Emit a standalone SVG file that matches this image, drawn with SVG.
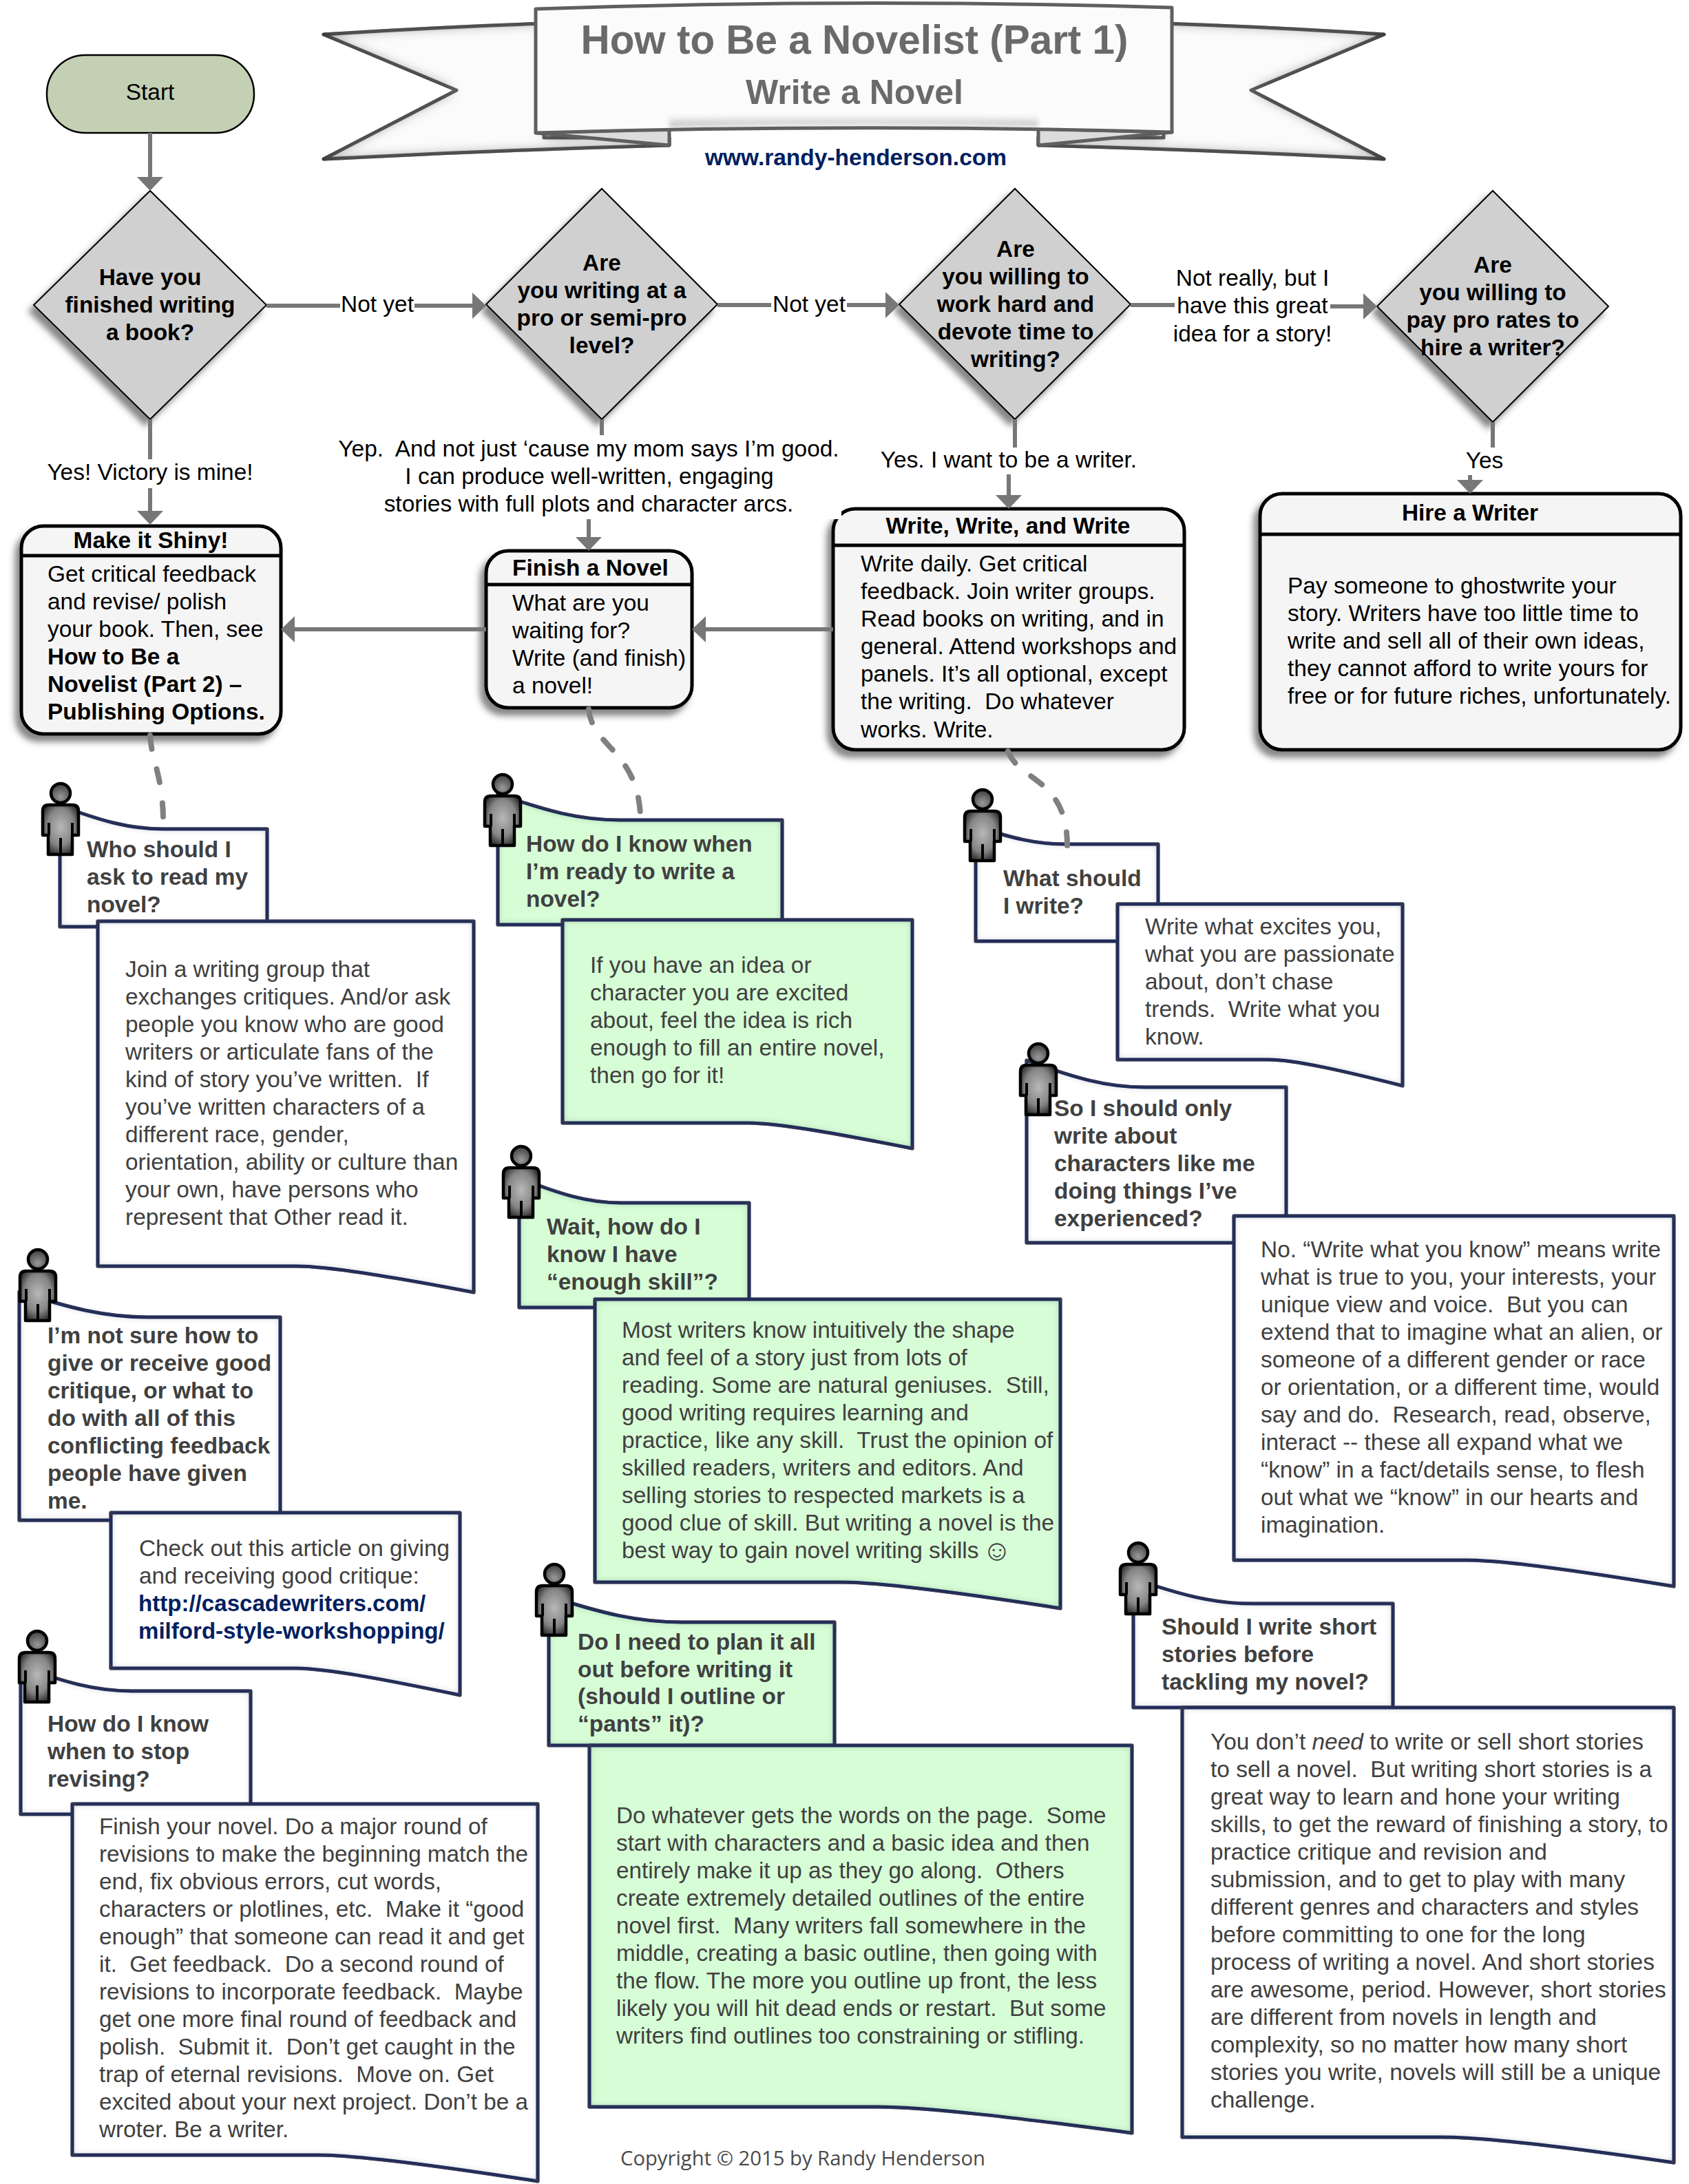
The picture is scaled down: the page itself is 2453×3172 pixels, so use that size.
<svg xmlns="http://www.w3.org/2000/svg" width="2453" height="3172" viewBox="0 0 2453 3172">
  <style>
    text { font-family: "Liberation Sans", Arial, "DejaVu Sans", sans-serif; font-size: 33.45px; fill: #000; }
    .bold { font-weight: bold; }
    .mid { text-anchor: middle; }
    .note-text { fill: #404040; }
    .note-text.tight { font-size: 33.25px; }
    .link { fill: #002060; font-weight: bold; font-size: 33.1px; }
    .decision { fill: #d0d0d0; stroke: #000; stroke-width: 2; stroke-linejoin: miter; filter: url(#castShadow); }
    .card { fill: #f5f5f5; stroke: #000; stroke-width: 5; filter: url(#castShadow); }
    .divider { stroke: #000; stroke-width: 5; }
    .note-white { fill: #fff; stroke: #002060; stroke-width: 5; stroke-linejoin: round; filter: url(#innerEdge); }
    .note-green { fill: #d6fdd6; stroke: #002060; stroke-width: 5; stroke-linejoin: round; filter: url(#innerEdge); }
    .ribbon { stroke: #5f5f5f; stroke-width: 5; stroke-linejoin: round; }
    .flow { fill: none; stroke: #777; stroke-width: 6; marker-end: url(#arrow); }
    .dash { fill: none; stroke: #808080; stroke-width: 8; stroke-linecap: round; stroke-dasharray: 20 30; }
    .mask { fill: #fff; }
  </style>
  <defs>
    <marker id="arrow" markerUnits="userSpaceOnUse" markerWidth="20" markerHeight="38" refX="10" refY="19" orient="auto">
      <path d="M0 0 L20 19 L0 38 Z" fill="#777"/>
    </marker>
    <filter id="castShadow" x="-15%" y="-15%" width="130%" height="130%">
      <feDropShadow dx="-7" dy="9" stdDeviation="5" flood-color="#444" flood-opacity="0.65"/>
    </filter>
    <filter id="innerEdge" x="-5%" y="-5%" width="110%" height="110%">
      <feFlood flood-color="#444" flood-opacity="1"/>
      <feComposite in2="SourceAlpha" operator="out"/>
      <feGaussianBlur stdDeviation="6"/>
      <feComposite in2="SourceAlpha" operator="in" result="edge"/>
      <feMerge><feMergeNode in="SourceGraphic"/><feMergeNode in="edge"/></feMerge>
    </filter>
    <filter id="ribbonEdge" x="-5%" y="-10%" width="110%" height="120%">
      <feFlood flood-color="#333" flood-opacity="1"/>
      <feComposite in2="SourceAlpha" operator="out"/>
      <feGaussianBlur stdDeviation="9"/>
      <feComposite in2="SourceAlpha" operator="in" result="edge"/>
      <feMerge><feMergeNode in="SourceGraphic"/><feMergeNode in="edge"/></feMerge>
    </filter>
    <filter id="soften"><feGaussianBlur stdDeviation="3"/></filter>
    <linearGradient id="foldShade" x1="0" y1="0" x2="0" y2="1">
      <stop offset="0" stop-color="#777" stop-opacity="0"/>
      <stop offset="1" stop-color="#777" stop-opacity="0.45"/>
    </linearGradient>
    <radialGradient id="bodyFill" cx="0.5" cy="0.45" r="0.62">
      <stop offset="0" stop-color="#b8b8b8"/>
      <stop offset="0.6" stop-color="#858585"/>
      <stop offset="1" stop-color="#1e1e1e"/>
    </radialGradient>
    <radialGradient id="headFill" cx="0.5" cy="0.7" r="0.7">
      <stop offset="0" stop-color="#9a9a9a"/>
      <stop offset="1" stop-color="#3c3c3c"/>
    </radialGradient>
    <g id="person">
      <circle r="14" fill="url(#headFill)" stroke="#000" stroke-width="4.5"/>
      <path d="M-26 61 V26 Q-26 17 -17 17 H17 Q26 17 26 26 V61 H17 V89 H-18 V61 Z" fill="url(#bodyFill)" stroke="#000" stroke-width="4.5" stroke-linejoin="round"/>
      <path d="M-17 43 V61 M17 43 V61 M0 65 V89" fill="none" stroke="#000" stroke-width="4"/>
    </g>
  </defs>

  <rect width="2453" height="3172" fill="#fff"/>

  <g id="title-banner">
    <path class="ribbon" fill="#fbfbfb" filter="url(#ribbonEdge)" d="M470 50 Q625 40 790 34 V200 H972 V211 Q720 218 470 231 L663 131 Z"/>
    <path class="ribbon" fill="#fbfbfb" filter="url(#ribbonEdge)" d="M2010 50 Q1860 40 1690 34 V200 H1508 V211 Q1770 218 2010 231 L1817 131 Z"/>
    <path class="ribbon" fill="#dcdcdc" d="M778 193 L972 211 V187 Z"/>
    <path class="ribbon" fill="#dcdcdc" d="M1702 192 L1508 211 V187 Z"/>
    <path fill="#fbfbfb" d="M778 13 Q1240 -3 1702 11 V192 Q1240 179 778 193 Z"/>
    <path d="M972 170 Q1240 164 1508 170 V184 Q1240 178 972 185 Z" fill="url(#foldShade)" filter="url(#soften)"/>
    <path class="ribbon" fill="none" d="M778 13 Q1240 -3 1702 11 V192 Q1240 179 778 193 Z"/>
    <text class="bold mid" x="1241" y="78" style="font-size:58.4px;fill:#6a6a6a">How to Be a Novelist (Part 1)</text>
    <text class="bold mid" x="1241" y="151" style="font-size:50px;fill:#6a6a6a">Write a Novel</text>
    <text class="link mid" x="1243" y="240" style="font-size:33.5px">www.randy-henderson.com</text>
  </g>

  <g id="start">
    <rect x="68" y="80" width="301" height="113" rx="56" ry="56" fill="#c3d0b4" stroke="#000" stroke-width="2.5"/>
    <text class="mid" x="218" y="145">Start</text>
  </g>

  <g id="decision-finished">
    <path class="decision" d="M218 277 L387 443 L218 609 L49 443 Z"/>
    <text class="bold mid"><tspan x="218" y="414">Have you</tspan><tspan x="218" y="454">finished writing</tspan><tspan x="218" y="494">a book?</tspan></text>
  </g>
  <g id="decision-level">
    <path class="decision" d="M874 274 L1042 442 L874 609 L706 442 Z"/>
    <text class="bold mid"><tspan x="874" y="393">Are</tspan><tspan x="874" y="433">you writing at a</tspan><tspan x="874" y="473">pro or semi-pro</tspan><tspan x="874" y="513">level?</tspan></text>
  </g>
  <g id="decision-devote">
    <path class="decision" d="M1474 274 L1642 442 L1474 609 L1306 442 Z"/>
    <text class="bold mid"><tspan x="1475" y="373">Are</tspan><tspan x="1475" y="413">you willing to</tspan><tspan x="1475" y="453">work hard and</tspan><tspan x="1475" y="493">devote time to</tspan><tspan x="1475" y="533">writing?</tspan></text>
  </g>
  <g id="decision-hire">
    <path class="decision" d="M2168 277 L2336 445 L2168 613 L2000 445 Z"/>
    <text class="bold mid"><tspan x="2168" y="396">Are</tspan><tspan x="2168" y="436">you willing to</tspan><tspan x="2168" y="476">pay pro rates to</tspan><tspan x="2168" y="516">hire a writer?</tspan></text>
  </g>

  <g id="card-shiny">
    <rect class="card" x="31" y="764" width="377" height="302" rx="32"/>
    <line class="divider" x1="31" y1="807" x2="408" y2="807"/>
    <text class="bold mid" x="219" y="796">Make it Shiny!</text>
    <text>
      <tspan x="69" y="845">Get critical feedback</tspan>
      <tspan x="69" y="885">and revise/ polish</tspan>
      <tspan x="69" y="925">your book. Then, see</tspan>
      <tspan x="69" y="965" class="bold">How to Be a</tspan>
      <tspan x="69" y="1005" class="bold">Novelist (Part 2) –</tspan>
      <tspan x="69" y="1045" class="bold">Publishing Options.</tspan>
    </text>
  </g>
  <g id="card-finish">
    <rect class="card" x="706" y="800" width="299" height="228" rx="32"/>
    <line class="divider" x1="706" y1="849" x2="1005" y2="849"/>
    <text class="bold" x="744" y="836">Finish a Novel</text>
    <text>
      <tspan x="744" y="887">What are you</tspan>
      <tspan x="744" y="927">waiting for?</tspan>
      <tspan x="744" y="967">Write (and finish)</tspan>
      <tspan x="744" y="1007">a novel!</tspan>
    </text>
  </g>
  <g id="card-write">
    <rect class="card" x="1210" y="739" width="510" height="350" rx="32"/>
    <line class="divider" x1="1210" y1="792" x2="1720" y2="792"/>
    <text class="bold mid" x="1464" y="775">Write, Write, and Write</text>
    <text>
      <tspan x="1250" y="830">Write daily. Get critical</tspan>
      <tspan x="1250" y="870">feedback. Join writer groups.</tspan>
      <tspan x="1250" y="910">Read books on writing, and in</tspan>
      <tspan x="1250" y="950">general. Attend workshops and</tspan>
      <tspan x="1250" y="990">panels. It’s all optional, except</tspan>
      <tspan x="1250" y="1030">the writing.&#160; Do whatever</tspan>
      <tspan x="1250" y="1071">works. Write.</tspan>
    </text>
  </g>
  <g id="card-hire">
    <rect class="card" x="1830" y="717" width="611" height="372" rx="32"/>
    <line class="divider" x1="1830" y1="776" x2="2441" y2="776"/>
    <text class="bold mid" x="2135" y="756">Hire a Writer</text>
    <text>
      <tspan x="1870" y="862">Pay someone to ghostwrite your</tspan>
      <tspan x="1870" y="902">story. Writers have too little time to</tspan>
      <tspan x="1870" y="942">write and sell all of their own ideas,</tspan>
      <tspan x="1870" y="982">they cannot afford to write yours for</tspan>
      <tspan x="1870" y="1022">free or for future riches, unfortunately.</tspan>
    </text>
  </g>

  <g id="note-who-reads">
    <path class="note-white" d="M87 1170 C147 1192 187 1204 237 1204 H388 V1346 H87 Z"/>
    <path class="note-white" d="M142 1338 H688 V1877 C579 1856 481 1839 431 1839 H142 Z"/>
    <use href="#person" x="88" y="1152"/>
    <text class="bold note-text">
      <tspan x="126" y="1245">Who should I</tspan>
      <tspan x="126" y="1285">ask to read my</tspan>
      <tspan x="126" y="1325">novel?</tspan>
    </text>
    <text class="note-text">
      <tspan x="182" y="1419">Join a writing group that</tspan>
      <tspan x="182" y="1459">exchanges critiques. And/or ask</tspan>
      <tspan x="182" y="1499">people you know who are good</tspan>
      <tspan x="182" y="1539">writers or articulate fans of the</tspan>
      <tspan x="182" y="1579">kind of story you’ve written.&#160; If</tspan>
      <tspan x="182" y="1619">you’ve written characters of a</tspan>
      <tspan x="182" y="1659">different race, gender,</tspan>
      <tspan x="182" y="1699">orientation, ability or culture than</tspan>
      <tspan x="182" y="1739">your own, have persons who</tspan>
      <tspan x="182" y="1779">represent that Other read it.</tspan>
    </text>
  </g>

  <g id="note-ready">
    <path class="note-green" d="M723 1153 C794 1178 842 1191 900 1191 H1136 V1343 H723 Z"/>
    <path class="note-green" d="M817 1336 H1325 V1668 C1223 1648 1132 1631 1086 1631 H817 Z"/>
    <use href="#person" x="730" y="1139"/>
    <text class="bold note-text">
      <tspan x="764" y="1237">How do I know when</tspan>
      <tspan x="764" y="1277">I’m ready to write a</tspan>
      <tspan x="764" y="1317">novel?</tspan>
    </text>
    <text class="note-text">
      <tspan x="857" y="1413">If you have an idea or</tspan>
      <tspan x="857" y="1453">character you are excited</tspan>
      <tspan x="857" y="1493">about, feel the idea is rich</tspan>
      <tspan x="857" y="1533">enough to fill an entire novel,</tspan>
      <tspan x="857" y="1573">then go for it!</tspan>
    </text>
  </g>

  <g id="note-what-write">
    <path class="note-white" d="M1417 1200 C1469 1217 1504 1226 1547 1226 H1682 V1367 H1417 Z"/>
    <path class="note-white" d="M1623 1313 H2037 V1577 C1954 1556 1880 1539 1842 1539 H1623 Z"/>
    <use href="#person" x="1427" y="1161"/>
    <text class="bold note-text">
      <tspan x="1457" y="1287">What should</tspan>
      <tspan x="1457" y="1327">I write?</tspan>
    </text>
    <text class="note-text">
      <tspan x="1663" y="1357">Write what excites you,</tspan>
      <tspan x="1663" y="1397">what you are passionate</tspan>
      <tspan x="1663" y="1437">about, don’t chase</tspan>
      <tspan x="1663" y="1477">trends.&#160; Write what you</tspan>
      <tspan x="1663" y="1517">know.</tspan>
    </text>
  </g>

  <g id="note-like-me">
    <path class="note-white" d="M1491 1540 C1559 1565 1606 1579 1662 1579 H1868 V1805 H1491 Z"/>
    <path class="note-white" d="M1792 1766 H2431 V2304 C2303 2283 2188 2266 2131 2266 H1792 Z"/>
    <use href="#person" x="1508" y="1530"/>
    <text class="bold note-text">
      <tspan x="1531" y="1621">So I should only</tspan>
      <tspan x="1531" y="1661">write about</tspan>
      <tspan x="1531" y="1701">characters like me</tspan>
      <tspan x="1531" y="1741">doing things I’ve</tspan>
      <tspan x="1531" y="1781">experienced?</tspan>
    </text>
    <text class="note-text">
      <tspan x="1831" y="1826">No. “Write what you know” means write</tspan>
      <tspan x="1831" y="1866">what is true to you, your interests, your</tspan>
      <tspan x="1831" y="1906">unique view and voice.&#160; But you can</tspan>
      <tspan x="1831" y="1946">extend that to imagine what an alien, or</tspan>
      <tspan x="1831" y="1986">someone of a different gender or race</tspan>
      <tspan x="1831" y="2026">or orientation, or a different time, would</tspan>
      <tspan x="1831" y="2066">say and do.&#160; Research, read, observe,</tspan>
      <tspan x="1831" y="2106">interact -- these all expand what we</tspan>
      <tspan x="1831" y="2146">“know” in a fact/details sense, to flesh</tspan>
      <tspan x="1831" y="2186">out what we “know” in our hearts and</tspan>
      <tspan x="1831" y="2226">imagination.</tspan>
    </text>
  </g>

  <g id="note-critique">
    <path class="note-white" d="M28 1876 C102 1900 153 1913 214 1913 H407 V2208 H28 Z"/>
    <path class="note-white" d="M161 2197 H668 V2462 C567 2441 475 2423 430 2423 H161 Z"/>
    <use href="#person" x="55" y="1829"/>
    <text class="bold note-text">
      <tspan x="69" y="1951">I’m not sure how to</tspan>
      <tspan x="69" y="1991">give or receive good</tspan>
      <tspan x="69" y="2031">critique, or what to</tspan>
      <tspan x="69" y="2071">do with all of this</tspan>
      <tspan x="69" y="2111">conflicting feedback</tspan>
      <tspan x="69" y="2151">people have given</tspan>
      <tspan x="69" y="2191">me.</tspan>
    </text>
    <text class="note-text tight">
      <tspan x="202" y="2260">Check out this article on giving</tspan>
      <tspan x="202" y="2300">and receiving good critique:</tspan>
    </text>
    <text class="link">
      <tspan x="201" y="2340">http://cascadewriters.com/</tspan>
      <tspan x="201" y="2380">milford-style-workshopping/</tspan>
    </text>
  </g>

  <g id="note-stop-revising">
    <path class="note-white" d="M30 2420 C94 2443 138 2456 191 2456 H364 V2635 H30 Z"/>
    <path class="note-white" d="M105 2620 H781 V3168 C646 3147 524 3130 463 3130 H105 Z"/>
    <use href="#person" x="54" y="2383"/>
    <text class="bold note-text">
      <tspan x="69" y="2515">How do I know</tspan>
      <tspan x="69" y="2555">when to stop</tspan>
      <tspan x="69" y="2595">revising?</tspan>
    </text>
    <text class="note-text tight">
      <tspan x="144" y="2664">Finish your novel. Do a major round of</tspan>
      <tspan x="144" y="2704">revisions to make the beginning match the</tspan>
      <tspan x="144" y="2744">end, fix obvious errors, cut words,</tspan>
      <tspan x="144" y="2784">characters or plotlines, etc.&#160; Make it “good</tspan>
      <tspan x="144" y="2824">enough” that someone can read it and get</tspan>
      <tspan x="144" y="2864">it.&#160; Get feedback.&#160; Do a second round of</tspan>
      <tspan x="144" y="2904">revisions to incorporate feedback.&#160; Maybe</tspan>
      <tspan x="144" y="2944">get one more final round of feedback and</tspan>
      <tspan x="144" y="2984">polish.&#160; Submit it.&#160; Don’t get caught in the</tspan>
      <tspan x="144" y="3024">trap of eternal revisions.&#160; Move on. Get</tspan>
      <tspan x="144" y="3064">excited about your next project. Don’t be a</tspan>
      <tspan x="144" y="3104">wroter. Be a writer.</tspan>
    </text>
  </g>

  <g id="note-skill">
    <path class="note-green" d="M754 1711 C813 1734 853 1747 902 1747 H1088 V1899 H754 Z"/>
    <path class="note-green" d="M864 1887 H1540 V2336 C1405 2315 1283 2298 1222 2298 H864 Z"/>
    <use href="#person" x="757" y="1679"/>
    <text class="bold note-text">
      <tspan x="794" y="1793">Wait, how do I</tspan>
      <tspan x="794" y="1833">know I have</tspan>
      <tspan x="794" y="1873">“enough skill”?</tspan>
    </text>
    <text class="note-text">
      <tspan x="903" y="1943">Most writers know intuitively the shape</tspan>
      <tspan x="903" y="1983">and feel of a story just from lots of</tspan>
      <tspan x="903" y="2023">reading. Some are natural geniuses.&#160; Still,</tspan>
      <tspan x="903" y="2063">good writing requires learning and</tspan>
      <tspan x="903" y="2103">practice, like any skill.&#160; Trust the opinion of</tspan>
      <tspan x="903" y="2143">skilled readers, writers and editors. And</tspan>
      <tspan x="903" y="2183">selling stories to respected markets is a</tspan>
      <tspan x="903" y="2223">good clue of skill. But writing a novel is the</tspan>
      <tspan x="903" y="2263">best way to gain novel writing skills<tspan dy="3" dx="5" style="font-size:42px">☺</tspan></tspan>
    </text>
  </g>

  <g id="note-outline">
    <path class="note-green" d="M797 2318 C874 2343 926 2356 990 2356 H1212 V2535 H797 Z"/>
    <path class="note-green" d="M856 2535 H1644 V3098 C1486 3077 1345 3060 1274 3060 H856 Z"/>
    <use href="#person" x="805" y="2286"/>
    <text class="bold note-text">
      <tspan x="839" y="2396">Do I need to plan it all</tspan>
      <tspan x="839" y="2436">out before writing it</tspan>
      <tspan x="839" y="2475">(should I outline or</tspan>
      <tspan x="839" y="2515">“pants” it)?</tspan>
    </text>
    <text class="note-text tight">
      <tspan x="895" y="2648">Do whatever gets the words on the page.&#160; Some</tspan>
      <tspan x="895" y="2688">start with characters and a basic idea and then</tspan>
      <tspan x="895" y="2728">entirely make it up as they go along.&#160; Others</tspan>
      <tspan x="895" y="2768">create extremely detailed outlines of the entire</tspan>
      <tspan x="895" y="2808">novel first.&#160; Many writers fall somewhere in the</tspan>
      <tspan x="895" y="2848">middle, creating a basic outline, then going with</tspan>
      <tspan x="895" y="2888">the flow. The more you outline up front, the less</tspan>
      <tspan x="895" y="2928">likely you will hit dead ends or restart.&#160; But some</tspan>
      <tspan x="895" y="2968">writers find outlines too constraining or stifling.</tspan>
    </text>
  </g>

  <g id="note-short-stories">
    <path class="note-white" d="M1646 2293 C1715 2316 1761 2329 1818 2329 H2023 V2480 H1646 Z"/>
    <path class="note-white" d="M1717 2480 H2431 V3141 C2288 3120 2160 3104 2095 3104 H1717 Z"/>
    <use href="#person" x="1653" y="2255"/>
    <text class="bold note-text">
      <tspan x="1687" y="2374">Should I write short</tspan>
      <tspan x="1687" y="2414">stories before</tspan>
      <tspan x="1687" y="2454">tackling my novel?</tspan>
    </text>
    <text class="note-text">
      <tspan x="1758" y="2541">You don’t <tspan font-style="italic">need</tspan> to write or sell short stories</tspan>
      <tspan x="1758" y="2581">to sell a novel.&#160; But writing short stories is a</tspan>
      <tspan x="1758" y="2621">great way to learn and hone your writing</tspan>
      <tspan x="1758" y="2661">skills, to get the reward of finishing a story, to</tspan>
      <tspan x="1758" y="2701">practice critique and revision and</tspan>
      <tspan x="1758" y="2741">submission, and to get to play with many</tspan>
      <tspan x="1758" y="2781">different genres and characters and styles</tspan>
      <tspan x="1758" y="2821">before committing to one for the long</tspan>
      <tspan x="1758" y="2861">process of writing a novel. And short stories</tspan>
      <tspan x="1758" y="2901">are awesome, period. However, short stories</tspan>
      <tspan x="1758" y="2941">are different from novels in length and</tspan>
      <tspan x="1758" y="2981">complexity, so no matter how many short</tspan>
      <tspan x="1758" y="3021">stories you write, novels will still be a unique</tspan>
      <tspan x="1758" y="3061">challenge.</tspan>
    </text>
  </g>

  <g id="connectors">
    <path class="flow" d="M218 193 V267"/>
    <path class="flow" d="M387 444 H696"/>
    <path class="flow" d="M1042 443 H1296"/>
    <path class="flow" d="M1642 443 H1800 V445 H1990"/>
    <path class="flow" d="M218 609 V752"/>
    <path class="flow" d="M874 609 V700 H855 V790"/>
    <path class="flow" d="M1474 609 V665 H1465 V729"/>
    <path class="flow" d="M2168 613 V670 H2135 V707"/>
    <path class="flow" d="M1210 914 H1015"/>
    <path class="flow" d="M706 914 H418"/>
    <path class="dash" d="M218 1068 C220 1105 236 1125 237 1189"/>
    <path class="dash" d="M855 1030 C860 1085 925 1090 930 1183"/>
    <path class="dash" d="M1464 1091 C1480 1135 1550 1130 1550 1228"/>

    <g id="label-not-yet-1">
      <rect class="mask" x="494" y="420" width="108" height="44"/>
      <text class="mid" x="548" y="453">Not yet</text>
    </g>
    <g id="label-not-yet-2">
      <rect class="mask" x="1120" y="420" width="110" height="44"/>
      <text class="mid" x="1175" y="453">Not yet</text>
    </g>
    <g id="label-not-really">
      <rect class="mask" x="1706" y="385" width="226" height="120"/>
      <text class="mid"><tspan x="1819" y="415">Not really, but I</tspan><tspan x="1819" y="455">have this great</tspan><tspan x="1819" y="496">idea for a story!</tspan></text>
    </g>
    <g id="label-victory">
      <rect class="mask" x="65" y="667" width="307" height="42"/>
      <text class="mid" x="218" y="697">Yes! Victory is mine!</text>
    </g>
    <g id="label-yep">
      <rect class="mask" x="488" y="632" width="734" height="122"/>
      <text class="mid"><tspan x="855" y="663">Yep.&#160; And not just ‘cause my mom says I’m good.</tspan><tspan x="856" y="703">I can produce well-written, engaging</tspan><tspan x="855" y="743">stories with full plots and character arcs.</tspan></text>
    </g>
    <g id="label-want">
      <rect class="mask" x="1275" y="650" width="380" height="39"/>
      <text class="mid" x="1465" y="679">Yes. I want to be a writer.</text>
    </g>
    <g id="label-yes">
      <rect class="mask" x="2120" y="650" width="70" height="40"/>
      <text class="mid" x="2156" y="680">Yes</text>
    </g>
  </g>

  <text id="copyright" x="901" y="3145" style="font-family:'Open Sans','Noto Sans',sans-serif;font-size:29px;fill:#4a4a4a" textLength="530" lengthAdjust="spacingAndGlyphs">Copyright © 2015 by Randy Henderson</text>
</svg>
